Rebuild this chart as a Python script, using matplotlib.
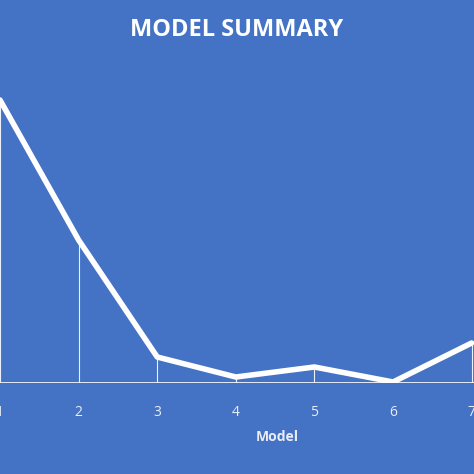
import matplotlib
matplotlib.use('Agg')
import matplotlib.pyplot as plt

models = [1, 2, 3, 4, 5, 6, 7]
values = [283, 143, 26, 6, 16, 1, 40]

bg = '#4472C4'
fig = plt.figure(figsize=(4.74, 4.74), dpi=100, facecolor=bg)
ax = fig.add_axes([0, 1 - 383 / 474, 1, (383 - 60) / 474], facecolor=bg)

ax.plot(models, values, color='white', lw=4, solid_capstyle='round', zorder=3)
ax.vlines(models, 0, values, color='white', lw=0.8, alpha=0.9)
ax.axhline(0, color='white', lw=1.2)

ax.set_xlim(1.03, 7.03)
ax.set_ylim(0, 323)
ax.set_yticks([])
ax.set_xticks(models)
ax.set_xticklabels([str(m) for m in models], color='#e8eef8', fontsize=10, fontfamily='Open Sans')
ax.tick_params(axis='x', length=0, pad=16)
for s in ax.spines.values():
    s.set_visible(False)

fig.text(0.5, 1 - 30 / 474, 'MODEL SUMMARY', color='white', fontsize=17, fontweight='bold',
         ha='center', va='center', fontfamily='Open Sans')
fig.text(0.585, 1 - 437 / 474, 'Model', color='#e8eef8', fontsize=10, fontweight='bold',
         ha='center', va='center', fontfamily='Open Sans')

fig.savefig('out.png', dpi=100, facecolor=bg)
